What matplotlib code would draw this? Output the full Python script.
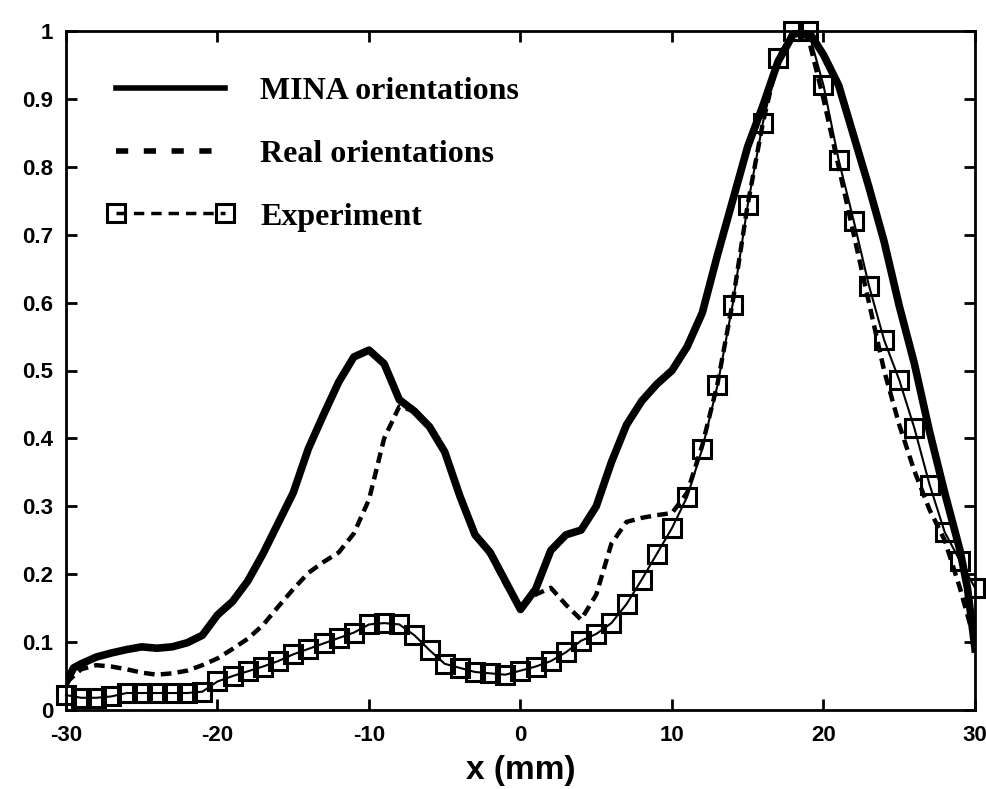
import matplotlib
matplotlib.use("Agg")
import matplotlib.pyplot as plt
from matplotlib.lines import Line2D
import numpy as np

# ---- data ----
x_mina = [-30, -29.5, -29, -28, -27, -26, -25, -24, -23, -22, -21, -20, -19, -18, -17, -16,
          -15, -14, -13, -12, -11, -10, -9, -8, -7, -6, -5, -4, -3, -2, -1, 0,
          1, 2, 3, 4, 5, 6, 7, 8, 9, 10, 11, 12, 13, 14, 15, 16, 17, 18, 19, 20,
          21, 22, 23, 24, 25, 26, 27, 28, 29, 29.5, 30]
y_mina = [0.040, 0.062, 0.068, 0.078, 0.084, 0.089, 0.093, 0.091, 0.093, 0.099, 0.110, 0.140,
          0.160, 0.190, 0.230, 0.275, 0.320, 0.385, 0.435, 0.483, 0.520, 0.530, 0.510, 0.457,
          0.440, 0.417, 0.380, 0.315, 0.258, 0.232, 0.190, 0.148,
          0.178, 0.235, 0.258, 0.265, 0.300, 0.365, 0.420, 0.455, 0.480, 0.500, 0.535, 0.585,
          0.670, 0.750, 0.830, 0.890, 0.955, 0.995, 1.000, 0.965,
          0.920, 0.845, 0.770, 0.690, 0.595, 0.510, 0.410, 0.320, 0.236, 0.180, 0.090]

x_real = [-30, -29, -28, -27, -26, -25, -24, -23, -22, -21, -20, -19, -18, -17, -16, -15,
          -14, -13, -12, -11, -10, -9, -8, -7, -6, -5, -4, -3, -2, -1, 0,
          1, 2, 3, 4, 5, 6, 7, 8, 9, 10, 11, 12, 13, 14, 15, 16, 17, 18, 19, 20,
          21, 22, 23, 24, 25, 26, 27, 28, 29, 30]
y_real = [0.040, 0.060, 0.066, 0.064, 0.060, 0.055, 0.052, 0.054, 0.058, 0.066, 0.076,
          0.090, 0.105, 0.125, 0.152, 0.178, 0.202, 0.218, 0.232, 0.260, 0.310, 0.400,
          0.447, 0.440, 0.415, 0.378, 0.313, 0.256, 0.228, 0.185, 0.150,
          0.170, 0.180, 0.155, 0.133, 0.170, 0.245, 0.277, 0.283, 0.287, 0.290, 0.320,
          0.390, 0.480, 0.600, 0.745, 0.865, 0.960, 1.000, 0.990, 0.900,
          0.800, 0.700, 0.600, 0.500, 0.420, 0.352, 0.295, 0.250, 0.180, 0.100]

x_exp = list(range(-30, 31))
y_exp = [0.022, 0.018, 0.018, 0.020, 0.025, 0.025, 0.025, 0.025, 0.025, 0.027, 0.042,
         0.050, 0.057, 0.064, 0.072, 0.082, 0.090, 0.098, 0.106, 0.114, 0.126, 0.128,
         0.126, 0.110, 0.088, 0.068, 0.062, 0.056, 0.054, 0.052, 0.058,
         0.064, 0.072, 0.085, 0.102, 0.112, 0.128, 0.156, 0.192, 0.230, 0.268, 0.314,
         0.385, 0.478, 0.597, 0.744, 0.865, 0.960, 1.000, 1.000, 0.920,
         0.810, 0.720, 0.625, 0.545, 0.486, 0.415, 0.332, 0.262, 0.220, 0.180]

labels = ["MINA orientations", "Real orientations", "Experiment"]
xticks = [-30, -20, -10, 0, 10, 20, 30]
yticks = [0, 0.1, 0.2, 0.3, 0.4, 0.5, 0.6, 0.7, 0.8, 0.9, 1]
yticklabels = ["0", "0.1", "0.2", "0.3", "0.4", "0.5", "0.6", "0.7", "0.8", "0.9", "1"]

fig = plt.figure(figsize=(9.87, 7.89), dpi=100)
ax = fig.add_axes([66/987, 1-710/789, (975-66)/987, (710-31)/789])

ax.plot(x_mina, y_mina, color="black", lw=5.5, solid_joinstyle="round", zorder=3)
ax.plot(x_real, y_real, color="black", lw=3.2, dashes=(2.4, 1.4), zorder=4)
ax.plot(x_exp, y_exp, color="black", lw=1.5, marker="s", ms=12.5, mew=2.2,
        mfc="none", mec="black", zorder=5, clip_on=False)

ax.set_xlim(-30, 30)
ax.set_ylim(0, 1)
ax.set_xticks(xticks)
ax.set_xticklabels([str(t) for t in xticks])
ax.set_yticks(yticks)
ax.set_yticklabels(yticklabels)

for lab in ax.get_xticklabels() + ax.get_yticklabels():
    lab.set_fontfamily("Liberation Sans")
    lab.set_fontweight("bold")
    lab.set_fontsize(16)

ax.tick_params(direction="in", length=8, width=2, top=True, right=True)
ax.tick_params(axis="x", pad=11)
ax.tick_params(axis="y", pad=9)
for s in ax.spines.values():
    s.set_linewidth(2)

ax.set_xlabel("x (mm)", fontfamily="Liberation Sans", fontweight="bold", fontsize=24,
              labelpad=6)

handles = [Line2D([], [], color="black", lw=4),
           Line2D([], [], color="black", lw=4, dashes=(2.2, 2.8)),
           Line2D([], [], color="black", lw=2.5, ls=(0, (3, 2)), marker="s", ms=13,
                  mew=2.2, mfc="none", mec="black")]
leg = ax.legend(handles, labels, loc="upper left", bbox_to_anchor=(0.045, 0.933),
                frameon=False, numpoints=2, handlelength=4.0, handletextpad=0.8,
                labelspacing=1.05, borderpad=0, borderaxespad=0,
                prop={"family": "Liberation Serif", "weight": "bold", "size": 23})

fig.savefig("out.png", dpi=100, facecolor="white")
